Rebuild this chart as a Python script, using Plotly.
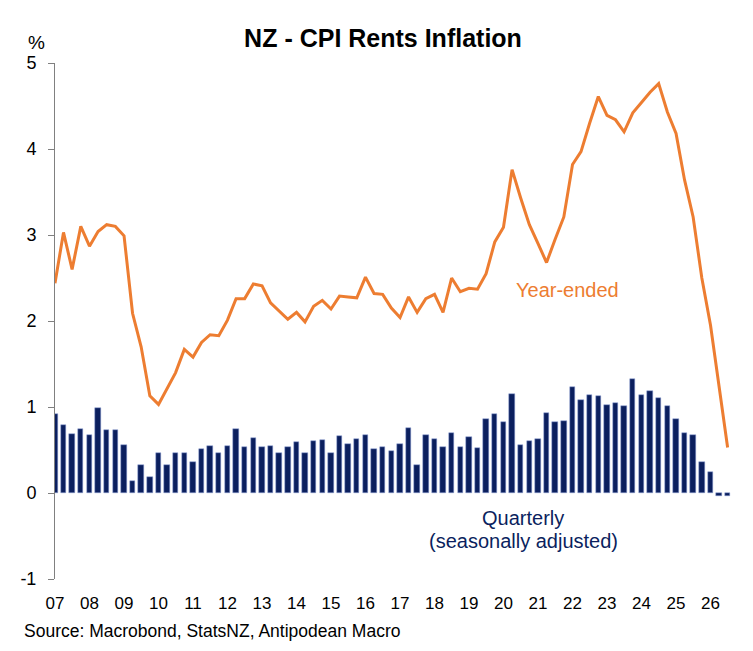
import plotly.graph_objects as go
import pandas as pd

# ---------------- data ----------------
start_quarter = "2007Q1"
year_ended = [
    2.44, 3.03, 2.60, 3.10, 2.87, 3.04, 3.12, 3.10, 2.99, 2.09,
    1.70, 1.13, 1.03, 1.22, 1.40, 1.67, 1.58, 1.75, 1.84, 1.83,
    2.01, 2.26, 2.26, 2.43, 2.41, 2.21, 2.11, 2.02, 2.10, 1.99,
    2.17, 2.24, 2.14, 2.29, 2.28, 2.27, 2.51, 2.32, 2.31, 2.15,
    2.04, 2.28, 2.10, 2.26, 2.31, 2.10, 2.50, 2.34, 2.38, 2.37,
    2.55, 2.92, 3.09, 3.76, 3.43, 3.12, 2.90, 2.68, 2.95, 3.21,
    3.82, 3.97, 4.30, 4.61, 4.39, 4.34, 4.20, 4.42, 4.54, 4.66,
    4.76, 4.43, 4.18, 3.64, 3.21, 2.50, 1.95, 1.25, 0.53,
]
quarterly_sa = [
    0.92, 0.79, 0.69, 0.74, 0.67, 0.99, 0.73, 0.73, 0.56, 0.14,
    0.32, 0.19, 0.46, 0.33, 0.47, 0.47, 0.36, 0.51, 0.55, 0.46,
    0.55, 0.75, 0.54, 0.64, 0.53, 0.55, 0.46, 0.53, 0.59, 0.47,
    0.61, 0.62, 0.47, 0.66, 0.57, 0.63, 0.67, 0.51, 0.53, 0.49,
    0.57, 0.76, 0.32, 0.67, 0.63, 0.53, 0.70, 0.53, 0.65, 0.52,
    0.86, 0.92, 0.82, 1.15, 0.56, 0.61, 0.63, 0.93, 0.82, 0.84,
    1.23, 1.08, 1.14, 1.13, 1.02, 1.05, 1.01, 1.32, 1.14, 1.19,
    1.11, 1.01, 0.86, 0.70, 0.68, 0.36, 0.25, -0.03, -0.03,
]
years = list(range(2007, 2027))
year_labels = [f"{y % 100:02d}" for y in years]
y_ticks = [-1, 0, 1, 2, 3, 4, 5]
y_labels = ["-1", "0", "1", "2", "3", "4", "5"]

dates = pd.period_range(start_quarter, periods=len(year_ended), freq="Q").to_timestamp()

ORANGE = "#ED7D31"
NAVY = "#0B1F5E"
FONT = "Arial, Liberation Sans, sans-serif"

W, H = 753, 651
ml, mr, mt, mb = 55, 8, 63, 72

fig = go.Figure()
fig.add_trace(go.Bar(
    x=dates, y=quarterly_sa,
    marker=dict(color=NAVY, line=dict(color="#8FA3D6", width=0.5)),
    width=0.62 * 91.3 * 24 * 3600 * 1000,
    showlegend=False, hoverinfo="skip",
))
fig.add_trace(go.Scatter(
    x=dates, y=year_ended, mode="lines",
    line=dict(color=ORANGE, width=3),
    showlegend=False, hoverinfo="skip",
))

x0 = pd.Timestamp("2007-01-01")
x1 = pd.Timestamp("2027-01-01")
tick_dates = [pd.Timestamp(f"{y}-01-01") for y in years]

fig.update_layout(
    width=W, height=H,
    margin=dict(l=ml, r=mr, t=mt, b=mb),
    paper_bgcolor="white", plot_bgcolor="white",
    font=dict(family=FONT, color="#000000"),
    bargap=0,
    title=dict(
        text="<b>NZ - CPI Rents Inflation</b>",
        x=383 / W, xanchor="center",
        y=1 - 38.5 / H, yanchor="middle", yref="container",
        font=dict(size=25, family=FONT, color="#000000"),
    ),
    xaxis=dict(
        type="date", range=[x0, x1],
        tickvals=tick_dates, ticktext=year_labels,
        showline=False, showgrid=False, zeroline=False,
        ticks="", ticklabelstandoff=12,
        tickfont=dict(size=17, family=FONT, color="#000000"),
    ),
    xaxis2=dict(
        type="date", range=[x0, x1], overlaying="x",
        anchor="free", position=1 / 6,
        tickvals=[pd.Timestamp(f"{y}-01-01") for y in range(2007, 2028)],
        showticklabels=False, showline=True, linecolor="#404040", linewidth=1,
        ticks="outside", ticklen=6, tickcolor="#404040", tickwidth=1,
        showgrid=False, zeroline=False,
    ),
    yaxis=dict(
        range=[-1, 5], tickvals=y_ticks, ticktext=y_labels,
        showline=True, linecolor="#808080", linewidth=1,
        ticks="outside", ticklen=6, tickcolor="#808080",
        ticklabelstandoff=8,
        showgrid=False, zeroline=False,
        tickfont=dict(size=18, family=FONT, color="#000000"),
    ),
)

pw = W - ml - mr
ph = H - mt - mb


def px(xp):
    return (xp - ml) / pw


def py(yp):
    return 1 - (yp - mt) / ph


fig.add_annotation(text="%", x=px(36), y=py(43), xref="paper", yref="paper",
                   showarrow=False, xanchor="center", yanchor="middle",
                   font=dict(size=19, family=FONT, color="#000000"))
fig.add_annotation(text="Year-ended", x=px(567), y=py(290), xref="paper", yref="paper",
                   showarrow=False, xanchor="center", yanchor="middle",
                   font=dict(size=20, family=FONT, color=ORANGE))
fig.add_annotation(text="Quarterly", x=px(523), y=py(518), xref="paper", yref="paper",
                   showarrow=False, xanchor="center", yanchor="middle",
                   font=dict(size=20, family=FONT, color=NAVY))
fig.add_annotation(text="(seasonally adjusted)", x=px(523), y=py(541),
                   xref="paper", yref="paper",
                   showarrow=False, xanchor="center", yanchor="middle",
                   font=dict(size=20, family=FONT, color=NAVY))
fig.add_annotation(text="Source: Macrobond, StatsNZ, Antipodean Macro",
                   x=px(22), y=py(631), xref="paper", yref="paper",
                   showarrow=False, xanchor="left", yanchor="middle",
                   font=dict(size=17.5, family=FONT, color="#000000"))

fig.write_html("out.html")
